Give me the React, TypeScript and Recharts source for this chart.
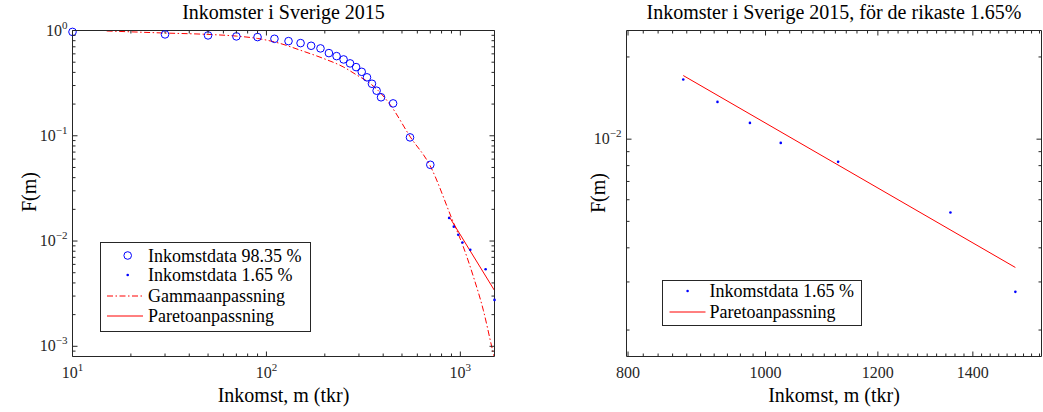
import React from 'react';
import { ComposedChart, Scatter, Line, XAxis, YAxis, Legend } from 'recharts';

// Inkomstdata 98.35 % (bin midpoints, tkr) and F(m)
const binIncome = [10, 30, 50, 70, 90, 110, 130, 150, 170, 190, 210, 230, 250, 270, 290, 310, 330, 350, 370, 390, 450, 550, 700];
const binShare = [0.97, 0.918, 0.898, 0.879, 0.866, 0.834, 0.793, 0.759, 0.716, 0.676, 0.61, 0.571, 0.531, 0.487, 0.449, 0.405, 0.359, 0.312, 0.268, 0.232, 0.203, 0.0965, 0.053];

// Inkomstdata 1.65 %
const topIncome = [875, 925, 975, 1025, 1125, 1350, 1500];
const topShare = [0.01654, 0.01369, 0.01147, 0.00969, 0.00826, 0.00539, 0.00276];

// Gammaanpassning
const gammaIncome = [15, 30, 50, 70, 90, 111, 155, 197, 249, 292, 342, 385, 434, 552, 698, 903, 1036, 1167, 1314, 1452, 1490];
const gammaShare = [0.99, 0.946, 0.918, 0.885, 0.84, 0.776, 0.635, 0.542, 0.451, 0.378, 0.315, 0.258, 0.198, 0.0975, 0.052, 0.0164, 0.0088, 0.0046, 0.0022, 0.00099, 0.00081];

// Paretoanpassning (straight line in log-log)
const paretoIncome = [875, 1500];
const paretoShare = [0.0171, 0.00339];

// axis ticks
const leftXTicks = [10, 20, 30, 40, 50, 60, 70, 80, 90, 100, 200, 300, 400, 500, 600, 700, 800, 900, 1000];
const leftXMajor = [10, 100, 1000];
const leftYTicks = [0.0009, 0.001, 0.002, 0.003, 0.004, 0.005, 0.006, 0.007, 0.008, 0.009, 0.01, 0.02, 0.03, 0.04, 0.05, 0.06, 0.07, 0.08, 0.09, 0.1, 0.2, 0.3, 0.4, 0.5, 0.6, 0.7, 0.8, 0.9, 1];
const leftYMajor = [0.001, 0.01, 0.1, 1];
const rightXTicks = [800, 820, 840, 860, 880, 900, 920, 940, 960, 980, 1000, 1020, 1040, 1060, 1080, 1100, 1120, 1140, 1160, 1180, 1200, 1220, 1240, 1260, 1280, 1300, 1320, 1340, 1360, 1380, 1400, 1420, 1440, 1460, 1480, 1500, 1520, 1540, 1560];
const rightXMajor = [800, 1000, 1200, 1400];
const rightYTicks = [0.002, 0.003, 0.004, 0.005, 0.006, 0.007, 0.008, 0.009, 0.01, 0.02];
const rightYMajor = [0.01];

const toPoints = (xs: number[], ys: number[]) => xs.map((m, i) => ({ m, F: ys[i] }));
const binData = toPoints(binIncome, binShare);
const topData = toPoints(topIncome, topShare);
const gammaData = toPoints(gammaIncome, gammaShare);
const paretoData = toPoints(paretoIncome, paretoShare);

const AX = '#262626';
const BLUE = '#0000ff';
const RED = '#ff0000';
const FONT = '"Liberation Serif", "Times New Roman", serif';

const pow10 = (v: number) => String(Math.round(Math.log10(v))).replace('-', '\u2212');

const AxisTick = (props: any) => {
  const { x, y, payload, side, majors, fmt } = props;
  const v = payload.value;
  const major = majors.includes(v);
  const len = major ? 5 : 3;
  let line;
  if (side === 'bottom') line = <line x1={x} y1={y} x2={x} y2={y - len} stroke={AX} />;
  else if (side === 'top') line = <line x1={x} y1={y} x2={x} y2={y + len} stroke={AX} />;
  else if (side === 'left') line = <line x1={x} y1={y} x2={x + len} y2={y} stroke={AX} />;
  else line = <line x1={x} y1={y} x2={x - len} y2={y} stroke={AX} />;

  let label = null;
  if (major && fmt) {
    const content = fmt === 'pow'
      ? <>10<tspan dy={-7} fontSize={11}>{pow10(v)}</tspan></>
      : String(v);
    if (side === 'bottom') {
      label = <text x={x} y={y + 21} textAnchor="middle" fontSize={16} fontFamily={FONT} fill={AX}>{content}</text>;
    } else if (side === 'left') {
      label = <text x={x - 5} y={y + 5} textAnchor="end" fontSize={16} fontFamily={FONT} fill={AX}>{content}</text>;
    }
  }
  return <g>{line}{label}</g>;
};

const circleShape = (p: any) => <circle cx={p.cx} cy={p.cy} r={3.8} fill="none" stroke={BLUE} strokeWidth={1} />;
const dotShape = (p: any) => <circle cx={p.cx} cy={p.cy} r={1.3} fill={BLUE} />;

const LeftLegend = () => (
  <svg width={211} height={90} style={{ display: 'block' }}>
    <rect x={0.5} y={0.5} width={210} height={89} fill="#fff" stroke={AX} />
    <circle cx={27.7} cy={13.5} r={3.8} fill="none" stroke={BLUE} />
    <text x={48} y={19.5} fontSize={18} fontFamily={FONT} fill="#000">Inkomstdata 98.35 %</text>
    <circle cx={27.7} cy={33} r={1.3} fill={BLUE} />
    <text x={48} y={39} fontSize={18} fontFamily={FONT} fill="#000">Inkomstdata 1.65 %</text>
    <line x1={7} y1={54} x2={43} y2={54} stroke={RED} strokeDasharray="6 2.5 1.5 2.5" />
    <text x={48} y={60} fontSize={18} fontFamily={FONT} fill="#000">Gammaanpassning</text>
    <line x1={7} y1={74} x2={43} y2={74} stroke={RED} />
    <text x={48} y={79.5} fontSize={18} fontFamily={FONT} fill="#000">Paretoanpassning</text>
  </svg>
);

const RightLegend = () => (
  <svg width={200} height={46} style={{ display: 'block' }}>
    <rect x={0.5} y={0.5} width={199} height={45} fill="#fff" stroke={AX} />
    <circle cx={25.6} cy={11} r={1.3} fill={BLUE} />
    <text x={47.5} y={17} fontSize={18} fontFamily={FONT} fill="#000">Inkomstdata 1.65 %</text>
    <line x1={7.5} y1={32} x2={43.5} y2={32} stroke={RED} />
    <text x={47.5} y={38} fontSize={18} fontFamily={FONT} fill="#000">Paretoanpassning</text>
  </svg>
);

const App: React.FC = () => {
  return (
    <div style={{ position: 'absolute', left: 0, top: 0, width: 1043, height: 412, background: '#fff' }}>
      <div style={{ position: 'absolute', left: 0, top: 0 }}>
        <ComposedChart width={520} height={412} margin={{ top: 29.5, right: 24.5, bottom: 54.5, left: 71.5 }}>
          <XAxis dataKey="m" type="number" scale="log" domain={[10, 1500]} ticks={leftXTicks} interval={0}
            height={1} tickSize={0} tickMargin={0} axisLine={{ stroke: AX }} tickLine={false}
            tick={(p: any) => <AxisTick {...p} side="bottom" majors={leftXMajor} fmt="pow" />} />
          <XAxis xAxisId="t" orientation="top" dataKey="m" type="number" scale="log" domain={[10, 1500]} allowDataOverflow
            ticks={leftXTicks} interval={0} height={1} tickSize={0} tickMargin={0} axisLine={{ stroke: AX }} tickLine={false}
            tick={(p: any) => <AxisTick {...p} side="top" majors={leftXMajor} />} />
          <YAxis dataKey="F" type="number" scale="log" domain={[0.0008, 1]} ticks={leftYTicks} interval={0}
            width={1} tickSize={0} tickMargin={0} axisLine={{ stroke: AX }} tickLine={false}
            tick={(p: any) => <AxisTick {...p} side="left" majors={leftYMajor} fmt="pow" />} />
          <YAxis yAxisId="r" orientation="right" dataKey="F" type="number" scale="log" domain={[0.0008, 1]} allowDataOverflow
            ticks={leftYTicks} interval={0} width={1} tickSize={0} tickMargin={0} axisLine={{ stroke: AX }} tickLine={false}
            tick={(p: any) => <AxisTick {...p} side="right" majors={leftYMajor} />} />
          <Line data={gammaData} dataKey="F" type="monotone" stroke={RED} strokeWidth={1}
            strokeDasharray="6 2.5 1.5 2.5" dot={false} activeDot={false} isAnimationActive={false} />
          <Line data={paretoData} dataKey="F" type="linear" stroke={RED} strokeWidth={1}
            dot={false} activeDot={false} isAnimationActive={false} />
          <Scatter data={binData} dataKey="F" shape={circleShape} isAnimationActive={false} />
          <Scatter data={topData} dataKey="F" shape={dotShape} isAnimationActive={false} />
          <Legend layout="vertical" align="center" verticalAlign="middle"
            wrapperStyle={{ position: 'absolute', left: 100, top: 242, width: 211, height: 90 }}
            content={() => <LeftLegend />} />
        </ComposedChart>
      </div>

      <div style={{ position: 'absolute', left: 520, top: 0 }}>
        <ComposedChart width={523} height={412} margin={{ top: 29.5, right: 0.5, bottom: 54.5, left: 105.5 }}>
          <XAxis dataKey="m" type="number" scale="log" domain={[798, 1565]} ticks={rightXTicks} interval={0}
            height={1} tickSize={0} tickMargin={0} axisLine={{ stroke: AX }} tickLine={false}
            tick={(p: any) => <AxisTick {...p} side="bottom" majors={rightXMajor} fmt="num" />} />
          <XAxis xAxisId="t" orientation="top" dataKey="m" type="number" scale="log" domain={[798, 1565]} allowDataOverflow
            ticks={rightXTicks} interval={0} height={1} tickSize={0} tickMargin={0} axisLine={{ stroke: AX }} tickLine={false}
            tick={(p: any) => <AxisTick {...p} side="top" majors={rightXMajor} />} />
          <YAxis dataKey="F" type="number" scale="log" domain={[0.0016, 0.025]} ticks={rightYTicks} interval={0}
            width={1} tickSize={0} tickMargin={0} axisLine={{ stroke: AX }} tickLine={false}
            tick={(p: any) => <AxisTick {...p} side="left" majors={rightYMajor} fmt="pow" />} />
          <YAxis yAxisId="r" orientation="right" dataKey="F" type="number" scale="log" domain={[0.0016, 0.025]} allowDataOverflow
            ticks={rightYTicks} interval={0} width={1} tickSize={0} tickMargin={0} axisLine={{ stroke: AX }} tickLine={false}
            tick={(p: any) => <AxisTick {...p} side="right" majors={rightYMajor} />} />
          <Line data={paretoData} dataKey="F" type="linear" stroke={RED} strokeWidth={1}
            dot={false} activeDot={false} isAnimationActive={false} />
          <Scatter data={topData} dataKey="F" shape={dotShape} isAnimationActive={false} />
          <Legend layout="vertical" align="center" verticalAlign="middle"
            wrapperStyle={{ position: 'absolute', left: 141.5, top: 280, width: 200, height: 46 }}
            content={() => <RightLegend />} />
        </ComposedChart>
      </div>

      <svg width={1043} height={412} style={{ position: 'absolute', left: 0, top: 0, pointerEvents: 'none' }}>
        <g fontFamily={FONT} fill="#000" fontSize={20}>
          <text x={283.5} y={19} textAnchor="middle">Inkomster i Sverige 2015</text>
          <text x={834} y={19} textAnchor="middle">Inkomster i Sverige 2015, för de rikaste 1.65%</text>
          <text x={283.5} y={402} textAnchor="middle">Inkomst, m (tkr)</text>
          <text x={834} y={402} textAnchor="middle">Inkomst, m (tkr)</text>
          <text x={0} y={0} textAnchor="middle" dominantBaseline="central" transform="translate(29 192) rotate(-90)">F(m)</text>
          <text x={0} y={0} textAnchor="middle" dominantBaseline="central" transform="translate(598 193) rotate(-90)">F(m)</text>
        </g>
      </svg>
    </div>
  );
};

export default App;
